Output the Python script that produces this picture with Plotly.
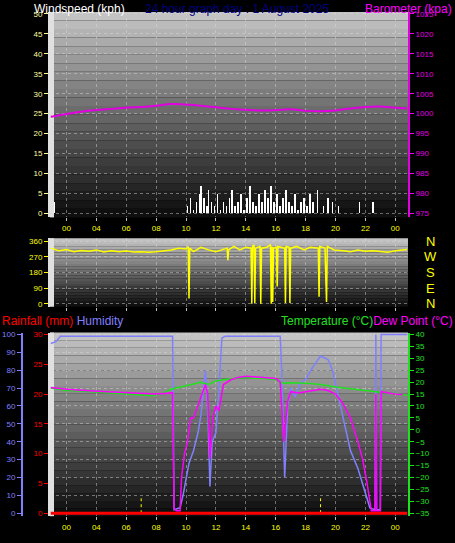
import plotly.graph_objects as go

# ---- data (hours since midnight) ----
baro_t = [0.95, 2, 3, 4, 5, 6, 7, 8, 9, 10, 11, 12, 13, 14, 15, 16, 17, 18, 19, 20, 21, 22, 23, 24, 24.8]
baro_v = [999.2, 999.9, 1000.5, 1000.9, 1001.2, 1001.5, 1001.7, 1002.0, 1002.4, 1002.3, 1002.0, 1001.6,
          1001.2, 1001.0, 1000.8, 1000.9, 1001.1, 1000.7, 1000.6, 1000.8, 1001.3, 1001.7, 1001.8, 1001.5, 1001.3]

wind_t = [1.2, 10.1, 10.3, 10.5, 10.7, 10.9, 11.0, 11.2, 11.4, 11.5, 11.7, 11.9, 12.1, 12.3, 12.5, 12.7,
          12.9, 13.1, 13.3, 13.5, 13.7, 13.9, 14.1, 14.3, 14.5, 14.7, 14.9, 15.1, 15.3, 15.5, 15.7, 15.9,
          16.1, 16.3, 16.5, 16.7, 16.9, 17.1, 17.3, 17.5, 17.7, 17.9, 18.1, 18.3, 18.5, 18.8, 19.2, 19.5,
          19.8, 20.2, 21.6, 22.5]
wind_v = [3, 2, 4, 1, 3, 5, 7, 4, 2, 6, 3, 2, 5, 1, 3, 2, 4, 6, 2, 3, 5, 1, 4, 7, 3, 2, 5, 3, 6, 4, 7, 3,
          5, 2, 4, 6, 3, 2, 5, 1, 3, 4, 2, 5, 3, 6, 2, 4, 3, 2, 3, 3]

dir_t = [0.95, 1.5, 2, 2.5, 3, 3.5, 4, 4.5, 5, 5.5, 6, 6.5, 7, 7.5, 8, 8.5, 9, 9.5, 10.0, 10.15, 10.2, 10.25,
         10.5, 11, 11.5, 12, 12.5, 12.75, 12.8, 12.85, 13.2, 13.6, 14.0, 14.35, 14.4, 14.45, 14.55, 14.6,
         14.65, 14.95, 15.0, 15.05, 15.4, 15.65, 15.7, 15.75, 15.8, 15.85, 16.05, 16.1, 16.15, 16.6, 16.65,
         16.7, 16.9, 16.95, 17.0, 17.4, 17.9, 18.3, 18.85, 18.9, 18.95, 19.3, 19.35, 19.4, 19.45, 19.9,
         20.5, 21, 21.5, 22, 22.5, 23, 23.5, 24, 24.5, 24.8]
dir_v = [320, 305, 312, 300, 306, 302, 310, 298, 305, 300, 303, 298, 300, 296, 300, 305, 310, 320, 315, 330,
         30, 320, 300, 325, 310, 300, 315, 320, 250, 310, 330, 310, 325, 320, 0, 330, 340, 5, 320, 330, 0,
         320, 325, 340, 0, 330, 10, 320, 325, 100, 330, 320, 5, 330, 325, 5, 320, 330, 310, 325, 320, 40,
         330, 320, 150, 10, 330, 310, 305, 300, 310, 302, 305, 300, 296, 305, 310, 312]

temp_t = [0.95, 2, 3, 4, 5, 6, 7, 7.8, 8.5, 9, 10, 11, 11.5, 12, 12.5, 13, 13.5, 14, 14.5, 15, 15.5, 16,
          16.5, 17, 18, 19, 20, 21, 22, 23, 24, 24.8]
temp_v = [17.5, 16.5, 16.3, 15.8, 15.5, 15.0, 14.6, 14.3, 15.5, 17.0, 18.5, 20.0, 19.0, 20.5, 21.0, 21.5,
          21.8, 22.0, 21.6, 21.8, 21.5, 21.0, 19.5, 19.8, 19.6, 19.0, 18.0, 17.2, 16.3, 15.8, 15.2, 14.5]

dew_t = [0.95, 2, 4, 6, 8, 9.1, 9.2, 9.35, 9.6, 9.7, 9.9, 10.1, 10.3, 10.5, 10.8, 11.0, 11.3, 11.45, 11.6,
         11.8, 12.0, 12.2, 12.5, 13.0, 13.5, 14.0, 15.0, 16.0, 16.3, 16.55, 16.8, 17.0, 17.5, 18.0, 18.5,
         19.0, 19.5, 20.0, 20.5, 21.0, 21.5, 21.8, 22.1, 22.4, 22.65, 22.7, 22.75, 23.0, 23.05, 23.5, 24.0, 24.5]
dew_v = [17.8, 17.0, 16.2, 15.6, 15.0, 15.5, -33, -34, -34, -20, -10, -5, 5, 5, 10, 14, 19, 15, -12, 5, 10,
         8, 19, 21, 22, 22.5, 22, 21.5, 20, -5, 12, 16, 15.5, 16, 16.5, 17, 16.5, 15, 11, 5, -5, -12, -22,
         -34, -34, 15, -34, -34, 16, 15.5, 15.0, 14.8]

hum_t = [0.95, 1.3, 1.6, 3, 6, 9.1, 9.2, 9.6, 9.8, 10.0, 10.2, 10.5, 10.8, 11.0, 11.3, 11.45, 11.6, 11.75,
         12.0, 12.2, 12.4, 12.6, 14, 16.3, 16.4, 16.6, 16.8, 17.0, 17.3, 17.6, 18.0, 18.5, 19.0, 19.5, 19.8,
         20.2, 20.6, 21.0, 21.5, 22.0, 22.3, 22.65, 22.7, 22.75, 23.0, 23.05, 23.4, 24.8]
hum_v = [95, 96, 99, 99, 99, 99, 2, 3, 10, 20, 28, 35, 45, 55, 80, 60, 15, 40, 45, 70, 98, 99, 99, 99, 80,
         20, 60, 70, 65, 72, 75, 82, 88, 86, 80, 65, 50, 35, 25, 12, 3, 2, 100, 2, 2, 100, 100, 100]

rain_t = [0.95, 24.8]
rain_v = [0, 0]
sun_t = [7.0, 19.0]

hour_ticks = [2, 4, 6, 8, 10, 12, 14, 16, 18, 20, 22, 24]
hour_text = ['00', '04', '06', '08', '10', '12', '14', '16', '18', '20', '22', '00']

W, H = 455, 543
def py(px):
    return 1 - px / H

X0, X1 = 50 / W, 408 / W
XR = [0.9, 24.85]
panels = [(10, 217), (238, 307), (333, 518)]

fig = go.Figure()

# gradient backgrounds
shapes = []
for top, bot in panels:
    n = 24
    for i in range(n):
        g = int(195 - 180 * i / (n - 1))
        shapes.append(dict(type='rect', xref='paper', yref='paper', layer='below',
                           x0=X0, x1=X1, y0=py(top + (bot - top) * (i + 1) / n),
                           y1=py(top + (bot - top) * i / n), line_width=0,
                           fillcolor=f'rgb({g},{g},{g})'))
    shapes.append(dict(type='rect', xref='paper', yref='paper', layer='below',
                       x0=X0, x1=X0 + 4 / W, y0=py(bot), y1=py(top), line_width=0,
                       fillcolor='#e0e0e0'))

# top panel
fig.add_trace(go.Bar(x=wind_t, y=wind_v, width=0.05, marker_color='white',
                     marker_line_width=0, xaxis='x', yaxis='y'))
fig.add_trace(go.Scatter(x=baro_t, y=baro_v, mode='lines', line=dict(color='#e000e0', width=2, shape='spline'),
                         xaxis='x', yaxis='y2'))
# middle panel
fig.add_trace(go.Scatter(x=dir_t, y=dir_v, mode='lines', line=dict(color='#ffff00', width=1.5),
                         xaxis='x2', yaxis='y3'))
# bottom panel
fig.add_trace(go.Scatter(x=temp_t, y=temp_v, mode='lines', line=dict(color='#20e020', width=1.5),
                         xaxis='x3', yaxis='y6'))
fig.add_trace(go.Scatter(x=hum_t, y=hum_v, mode='lines', line=dict(color='#8080ff', width=1.5),
                         xaxis='x3', yaxis='y4'))
fig.add_trace(go.Scatter(x=dew_t, y=dew_v, mode='lines', line=dict(color='#ff00ff', width=1.5),
                         xaxis='x3', yaxis='y6'))
for t in sun_t:
    fig.add_trace(go.Scatter(x=[t, t], y=[0, 2.5], mode='lines', line=dict(color='#ffff00', width=1, dash='dot'),
                             xaxis='x3', yaxis='y5'))
fig.add_trace(go.Scatter(x=rain_t, y=rain_v, mode='lines', line=dict(color='#ff0000', width=3),
                         xaxis='x3', yaxis='y5'))

tickf = dict(family='Liberation Sans', size=8)
grid = dict(showgrid=True, gridcolor='rgba(220,220,220,0.45)', griddash='dot', gridwidth=1, zeroline=False)
def dom(p):
    return [py(p[1]), py(p[0])]

xcommon = dict(range=XR, tickvals=hour_ticks, ticktext=hour_text, ticks='outside', ticklen=3,
               tickcolor='#c0c0c0', tickfont=dict(color='#ffff00', **tickf), domain=[X0, X1], **grid)
yleft = dict(ticks='outside', ticklen=4, showline=True, linewidth=2, **grid)
noz = dict(showgrid=False, zeroline=False)

fig.update_layout(
    width=W, height=H, margin=dict(l=0, r=0, t=0, b=0),
    paper_bgcolor='black', plot_bgcolor='rgba(0,0,0,0)', showlegend=False, shapes=shapes,
    bargap=0,
    xaxis=dict(anchor='y', **xcommon),
    xaxis2=dict(anchor='y3', showticklabels=False, **{k: v for k, v in xcommon.items() if k != 'tickfont'}),
    xaxis3=dict(anchor='y4', **xcommon),
    yaxis=dict(domain=dom(panels[0]), range=[-1.0, 50.5], dtick=5, tickcolor='#ffffa0', linecolor='#e0e0e0',
               tickfont=dict(color='#ffffa0', **tickf), **yleft),
    yaxis2=dict(overlaying='y', side='right', range=[974, 1025.5], dtick=5, ticks='outside', ticklen=4,
                showline=True, linewidth=2, linecolor='#e000e0', tickcolor='#e000e0',
                tickfont=dict(color='#e000e0', **tickf), anchor='x', **noz),
    yaxis3=dict(domain=dom(panels[1]), range=[-17, 377], tickvals=[0, 90, 180, 270, 360], tickcolor='#ffff00',
                linecolor='#e0e0e0', tickfont=dict(color='#ffff00', **tickf), anchor='x2', **yleft),
    yaxis4=dict(domain=dom(panels[2]), range=[-1.67, 101.1], dtick=10, anchor='free', position=22 / W,
                ticks='outside', ticklen=4, showline=True, linewidth=2, linecolor='#8080ff', tickcolor='#8080ff',
                tickfont=dict(color='#8080ff', **tickf), **grid),
    yaxis5=dict(overlaying='y4', range=[-0.5, 30.33], dtick=5, anchor='x3', ticks='outside', ticklen=4,
                showline=True, linewidth=2, linecolor='#e0e0e0', tickcolor='#ff0000',
                tickfont=dict(color='#ff0000', **tickf), **noz),
    yaxis6=dict(overlaying='y4', side='right', range=[-36.25, 40.83], dtick=5, anchor='x3', ticks='outside',
                ticklen=4, showline=True, linewidth=2, linecolor='#20e020', tickcolor='#20e020',
                tickfont=dict(color='#20e020', **tickf), **noz),
)

tf = dict(family='Liberation Sans', size=12)
ann = [
    dict(x=32 / W, y=py(-2), text='Windspeed (kph)', font=dict(color='white', **tf), xanchor='left'),
    dict(x=0.52, y=py(-2), text='24 hour graph day : 1 August 2025', font=dict(color='#000080', **tf), xanchor='center'),
    dict(x=454 / W, y=py(-2), text='Barometer (kpa)', font=dict(color='#ff00ff', **tf), xanchor='right'),
    dict(x=0, y=py(312), text='<span style="color:#ff0000">Rainfall (mm)</span> Humidity',
         font=dict(color='#8080ff', **tf), xanchor='left'),
    dict(x=455 / W, y=py(312), text='Temperature (°C)<span style="color:#ff00ff">Dew Point (°C)</span>',
         font=dict(color='#20e020', **tf), xanchor='right'),
]
for a in ann:
    a.update(xref='paper', yref='paper', showarrow=False, yanchor='top')
for lbl, v in zip(['N', 'W', 'S', 'E', 'N'], [360, 270, 180, 90, 0]):
    ann.append(dict(x=430 / W, y=v, xref='paper', yref='y3', text=lbl, showarrow=False,
                    font=dict(color='#ffff00', family='Liberation Sans', size=13), xanchor='center'))
fig.update_layout(annotations=ann)

fig.write_html('out.html', config={'displayModeBar': False},
               post_script="document.body.style.margin='0';")
